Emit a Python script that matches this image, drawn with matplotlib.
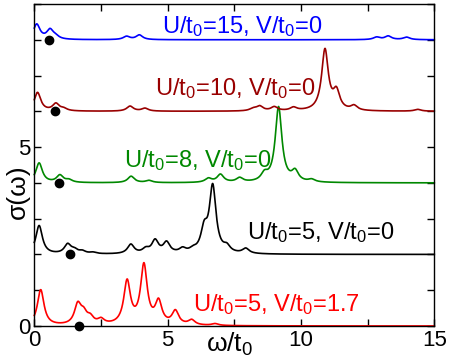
import numpy as np
import matplotlib
matplotlib.use("Agg")
import matplotlib.pyplot as plt
from matplotlib.ticker import MultipleLocator, FuncFormatter

plt.rcParams['font.family'] = ['Liberation Sans', 'DejaVu Sans']
plt.rcParams['mathtext.fontset'] = 'custom'
plt.rcParams['mathtext.rm'] = 'Liberation Sans'
plt.rcParams['mathtext.it'] = 'Liberation Sans:italic'
plt.rcParams['mathtext.default'] = 'regular'

# ---- data: peak positions (omega/t0) and peak heights ----
red_pos = [0.24, 1.63, 1.85, 2.1, 2.5, 3.48, 4.11, 4.66, 5.29, 5.9, 6.78]
red_h = [1.0, 0.55, 0.28, 0.18, 0.14, 1.2, 1.65, 0.62, 0.38, 0.14, 0.05]

black_pos = [0.18, 1.25, 1.5, 1.8, 2.2, 3.62, 4.18, 4.53, 4.96, 5.56, 5.95, 6.37, 6.69, 7.22, 7.93]
black_h = [0.8, 0.26, 0.1, 0.07, 0.04, 0.26, 0.12, 0.36, 0.3, 0.12, 0.08, 0.6, 1.85, 0.16, 0.14]

green_pos = [0.18, 0.96, 1.3, 3.63, 4.3, 6.53, 6.98, 7.7, 8.63, 9.16, 9.78, 10.4]
green_h = [0.55, 0.2, 0.07, 0.18, 0.06, 0.11, 0.22, 0.12, 0.2, 2.1, 0.28, 0.07]

brown_pos = [0.12, 0.81, 1.1, 3.59, 4.15, 8.2, 8.45, 9.0, 9.72, 10.9, 11.33, 11.99, 14.38]
brown_h = [0.52, 0.2, 0.06, 0.14, 0.08, 0.06, 0.13, 0.11, 0.09, 1.7, 0.5, 0.13, 0.05]

blue_pos = [0.09, 0.59, 0.8, 3.46, 3.94, 12.84, 13.27, 13.96]
blue_h = [0.42, 0.26, 0.07, 0.09, 0.13, 0.07, 0.1, 0.07]

offsets = [0, 2, 4, 6, 8]
gap_x = [1.69, 1.32, 0.94, 0.79, 0.54]
labels = [r'U/t$_0$=5, V/t$_0$=1.7', r'U/t$_0$=5, V/t$_0$=0', r'U/t$_0$=8, V/t$_0$=0',
          r'U/t$_0$=10, V/t$_0$=0', r'U/t$_0$=15, V/t$_0$=0']
label_xy = [(5.94, 0.43), (7.96, 2.42), (3.36, 4.45), (4.53, 6.45), (4.79, 8.18)]
colors = ['#ff0000', '#000000', '#008800', '#990000', '#0000ff']

gamma = 0.15
omega = np.linspace(0, 15, 3001)


def spectrum(pos, h):
    s = np.zeros_like(omega)
    for p, a in zip(pos, h):
        s += a * gamma**2 / ((omega - p)**2 + gamma**2)
    return s


series = [(red_pos, red_h), (black_pos, black_h), (green_pos, green_h),
          (brown_pos, brown_h), (blue_pos, blue_h)]

fig = plt.figure(figsize=(4.49, 3.64), dpi=100)
ax = fig.add_axes([34.3 / 449, (364 - 326) / 364, 400 / 449, 322 / 364])

for (pos, h), off, c, gx, lab, (lx, ly) in zip(series, offsets, colors, gap_x, labels, label_xy):
    ax.plot(omega, spectrum(pos, h) + off, color=c, lw=1.2, clip_on=False)
    ax.plot([gx], [off], 'o', color='black', ms=6, clip_on=False, zorder=5)
    ax.text(lx, ly, lab, color=c, fontsize=17, ha='left', va='baseline')

ax.set_xlim(0, 15)
ax.set_ylim(0, 9)
ax.xaxis.set_major_locator(MultipleLocator(2.5))
ax.yaxis.set_major_locator(MultipleLocator(1))
ax.xaxis.set_major_formatter(FuncFormatter(lambda v, p: f'{v:.0f}' if abs(v % 5) < 1e-6 else ''))
ax.yaxis.set_major_formatter(FuncFormatter(lambda v, p: f'{v:.0f}' if abs(v % 5) < 1e-6 else ''))
ax.tick_params(direction='in', length=5, width=1, top=True, right=True, labelsize=16, pad=3)
for sp in ax.spines.values():
    sp.set_linewidth(1.0)

fig.text(17.5 / 449, 1 - 192 / 364, 'σ(ω)', rotation=90, fontsize=19, ha='center', va='center')
fig.text(230 / 449, 1 - 352 / 364, r'ω/t$_0$', fontsize=19, ha='center', va='baseline')

fig.savefig('out.png', dpi=100)
